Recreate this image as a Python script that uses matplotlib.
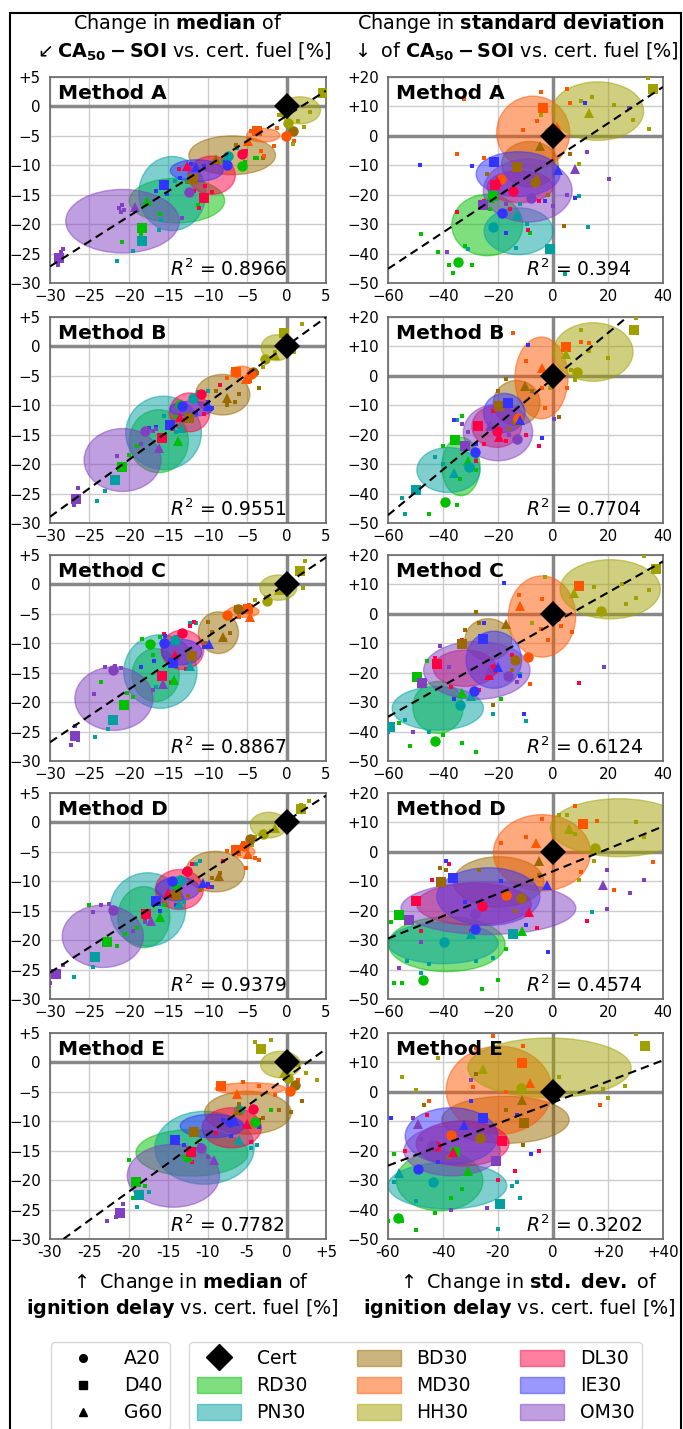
import numpy as np
import matplotlib
matplotlib.use("Agg")
import matplotlib.pyplot as plt
from matplotlib.patches import Ellipse, Patch, Rectangle
from matplotlib.lines import Line2D

plt.rcParams['font.family'] = ['DejaVu Sans']
plt.rcParams['mathtext.fontset'] = 'dejavusans'

# ---------------- data ----------------
FUELS = ['RD30', 'PN30', 'BD30', 'MD30', 'HH30', 'DL30', 'IE30', 'OM30']
COLORS = ['#00c000', '#00a0a0', '#9a6a00', '#ff5500', '#a0a000', '#ff0044', '#3333ff', '#8040c0']
ENGINES = ['A20', 'D40', 'G60']
ENGINE_MARKERS = ['o', 's', '^']
METHODS = ['A', 'B', 'C', 'D', 'E']
CERT_X = [0.0]
CERT_Y = [0.0]

R2_MED = ['0.8966', '0.9551', '0.8867', '0.9379', '0.7782']
R2_STD = ['0.394', '0.7704', '0.6124', '0.4574', '0.3202']
FIT_MED = [(0.853, -1.6), (0.968, 0.1), (0.897, 0.1), (0.859, 0.26), (0.97, -2.55)]
FIT_STD = [(0.618, -8.1), (0.774, -0.9), (0.528, -3.3), (0.381, -6.6), (0.358, -3.6)]

MED_TICKS = [-30, -25, -20, -15, -10, -5, 0, 5]
MED_YLABELS = ['\u221230', '\u221225', '\u221220', '\u221215', '\u221210', '\u22125', '0', '+5']
MED_XLABELS = ['\u221230', '\u221225', '\u221220', '\u221215', '\u221210', '\u22125', '0', '5']
MED_XLABELS_E = ['-30', '-25', '-20', '-15', '-10', '-5', '0', '+5']
STD_XTICKS = [-60, -40, -20, 0, 20, 40]
STD_XLABELS = ['\u221260', '\u221240', '\u221220', '0', '20', '40']
STD_XLABELS_E = ['-60', '-40', '-20', '0', '+20', '+40']
STD_YTICKS = [-50, -40, -30, -20, -10, 0, 10, 20]
STD_YLABELS = ['\u221250', '\u221240', '\u221230', '\u221220', '\u221210', '0', '+10', '+20']

# ellipses per fuel: (cx, cy, width, height)
ELL_A_MED = [(-13.9, -16, 12.1, 7.6), (-14.5, -14.8, 8.5, 12.6), (-6.9, -8.3, 11, 6.6), (-2.95, -4.9, 4.2, 2.3),
             (1.7, -0.66, 5.2, 4.6), (-9.5, -11.7, 6.0, 6.5), (-11.4, -10.9, 6.7, 3.7), (-20.8, -19.5, 14.4, 10.8)]
ELL_A_STD = [(-23.9, -30.3, 25.8, 20.9), (-12.5, -32.4, 25.1, 15.9), (-8.4, -9.6, 20.6, 15.4), (-7.2, 1.1, 26.6, 24.8),
             (16.3, 8.4, 33.3, 19.9), (-12, -17.3, 24, 10.8), (-12.7, -13, 30.5, 15.2), (-9.2, -18.6, 32.3, 21.4)]
ELL_B_MED = [(-16.2, -16.1, 7.5, 10.7), (-15.6, -14.7, 9.6, 12.5), (-8.1, -8.2, 6.9, 6.9), (-5.7, -4.4, 2.75, 2.1),
             (-1.27, -0.22, 3.9, 4.4), (-12.3, -11.2, 5.1, 6.6), (-12.1, -10.6, 5.4, 2.6), (-20.8, -19.3, 9.75, 10.7)]
ELL_B_STD = [(-33.5, -30.8, 13.9, 19.9), (-38, -32, 23, 15.3), (-13.2, -9.2, 17, 15.3), (-4.2, -0.7, 19.3, 27.8),
             (14.6, 8.1, 29, 19.9), (-20.5, -17.2, 18, 14.2), (-17.7, -12.6, 15.1, 13.3), (-20, -19.2, 25.2, 19.3)]
ELL_C_MED = [(-16.6, -15.4, 6, 9), (-16, -14.8, 9.3, 12.5), (-8.65, -8.2, 5.1, 7.1), (-5.5, -4.6, 4, 2),
             (-1.05, -0.55, 4.7, 4.3), (-13.2, -11.1, 5.4, 6.7), (-13.3, -11.5, 5.1, 4.3), (-21.9, -19.4, 9.9, 10.8)]
ELL_C_STD = [(-41.8, -31.8, 18.3, 17.7), (-41.9, -32.1, 33.2, 14.8), (-23.5, -8.7, 17, 14.1), (-4, -0.9, 24.5, 27.6),
             (20.8, 8.35, 36.5, 20.1), (-32, -18.5, 23, 12.3), (-21.5, -15.6, 20.2, 19.4), (-27.7, -19.2, 38.7, 19.7)]
ELL_D_MED = [(-18.1, -16.1, 6.6, 10.4), (-17.6, -14.8, 9.6, 12.5), (-9.05, -8.35, 7.5, 6.9), (-5.5, -5, 3, 2),
             (-2.25, -0.45, 4.7, 4.35), (-13.6, -11.4, 6.1, 6.8), (-13.8, -11.3, 5.5, 4), (-23.3, -19.35, 10.3, 10.6)]
ELL_D_STD = [(-38.6, -31.4, 42.4, 18.6), (-40, -31, 40, 14), (-19.7, -10.2, 32.9, 17.1), (-4, -0.3, 35.3, 25.9),
             (24, 8.2, 50, 19.7), (-28.7, -17.8, 41.7, 14.2), (-23.5, -15.2, 37.5, 19.6), (-23.5, -19.15, 63.6, 17.9)]
ELL_E_MED = [(-12, -15.35, 14.2, 7.9), (-10.4, -14.5, 12.6, 12.4), (-4.9, -8.55, 11, 7.3), (-4.6, -4.45, 8.9, 2),
             (-0.75, -0.35, 5.1, 4.5), (-6.95, -11.1, 7.5, 6.8), (-9.45, -10.8, 8.1, 4), (-14.35, -19.25, 11.7, 10.7)]
ELL_E_STD = [(-41.2, -30.25, 31.4, 20.3), (-38.4, -31.9, 43.2, 15.8), (-17.3, -9.5, 46.3, 16), (-19.6, 0.55, 38.5, 29.9),
             (-1.3, 8.15, 59.4, 20.3), (-32.9, -17.55, 33.8, 15.3), (-36.9, -15, 33.7, 19.2), (-36.7, -20, 35, 17.1)]

# big markers per fuel: (xA20, yA20, xD40, yD40, xG60, yG60)
MRK_A_MED = [(-5.7, -10.2, -18.3, -20.6, -17.7, -16.1), (-7.4, -8.4, -18.3, -22.8, -12.3, -12.2),
             (0.85, -4.2, -11.9, -12.3, -8.95, -8.9), (-0.1, -5.1, -3.8, -4.1, -4.85, -5.8),
             (0.2, -2.9, 4.6, 2.2, -0.3, -0.9), (-5.6, -8.0, -10.5, -15.5, -12.6, -10.2),
             (-7.5, -10, -15.5, -13.4, -11.5, -10.3), (-12.4, -14.6, -28.8, -25.7, -19.2, -17.1)]
MRK_A_STD = [(-34.4, -42.9, -22, -20.5, -22.9, -21), (-22, -31, -1.1, -38.4, -13, -27),
             (-6.6, -15.6, -13.2, -10.7, -4.7, -3.3), (-18.9, -14.7, -3.8, 9.4, 1.3, 2.9),
             (-1.5, 1.4, 36.4, 15.8, 13.2, 7.7), (-14.4, -18.7, -21, -16.8, -20.5, -15.5),
             (-18.4, -26.1, -21.4, -8.8, 1.9, -11.6), (-8, -21, -25.3, -23.5, 8, -11.1)]
MRK_B_MED = [(-13.5, -10, -20.9, -20.5, -13.8, -16), (-11.9, -8.7, -21.8, -22.7, -13.4, -13.9),
             (-4.3, -4.4, -12.4, -12.1, -7.6, -8.7), (-4.5, -4.6, -6.4, -4.3, -5.2, -5.5),
             (-2.75, -2.1, -0.34, 2.2, -1.5, -1.5), (-10.8, -8, -15.8, -15.5, -13.5, -12),
             (-13.3, -10.1, -14.8, -13.4, -10, -10.2), (-17.9, -14.4, -26.7, -25.9, -16.2, -17.2)]
MRK_B_STD = [(-39.1, -43, -35.6, -21.8, -31, -29), (-30.5, -31, -49.7, -38.7, -36, -33),
             (-13.2, -15.5, -19.5, -10.3, -10.2, -3.5), (-12.8, -14.3, 4.9, 9.8, -4.1, 2.7),
             (8.9, 1.3, 29.4, 15.5, 4.6, 7.5), (-20.5, -18.8, -27.1, -16.9, -19.5, -20.9),
             (-28.3, -26, -16.5, -9.3, -12, -15), (-13.2, -21.4, -31.9, -23.7, -23, -17)]
MRK_C_MED = [(-17.3, -10.2, -20.6, -20.5, -14.3, -16.3), (-14.2, -9.5, -22, -23, -12.2, -13.8),
             (-6.2, -4.1, -11.95, -12.2, -8, -9), (-7.6, -5.2, -4.9, -4.1, -4.7, -5.6),
             (-2.5, -2.9, 1.7, 2.2, -1, -1), (-13.3, -8.2, -15.8, -15.5, -14.2, -12),
             (-15.5, -10, -14.4, -13.4, -9.8, -10.1), (-22, -14.6, -26.8, -25.7, -15.7, -17)]
MRK_C_STD = [(-42.8, -43.3, -49.5, -21.3, -33, -27), (-33.8, -31, -59.4, -38.6, -30, -28),
             (-13.8, -15.6, -33.2, -10.4, -17, -3.6), (-9.2, -14.7, 9.5, 9.5, -12, 2.7),
             (17.6, 1, 37.3, 15.4, 7.7, 7.2), (-21.9, -18.8, -42.2, -16.9, -23.1, -20.9),
             (-28.6, -26.1, -25.5, -8.7, -20, -18), (-16.2, -21, -47.7, -23.6, -23, -19)]
MRK_D_MED = [(-14, -10.4, -22.8, -20.4, -16.1, -16), (-13.5, -9.8, -24.3, -22.8, -13.6, -13.8),
             (-4.6, -2.8, -14, -12.4, -8.6, -9.1), (-5.4, -4, -6.4, -4.6, -4.9, -5.4),
             (-3, -2, 1.8, 2.2, -1.5, -1), (-12.6, -8.2, -17.8, -15.5, -15, -12),
             (-14.5, -10, -16.6, -13.4, -10.6, -10.3), (-22, -14.8, -29.2, -25.7, -17.2, -16.8)]
MRK_D_STD = [(-47.1, -43.4, -56.1, -21.3, -11.4, -26.9), (-39.6, -30.6, -14.7, -27.8, -30, -28),
             (-11.6, -15.6, -40.6, -10.2, -5, -3.1), (-17.1, -14.7, 11, 9.4, -6.2, 2.9),
             (15.2, 1.4, np.nan, np.nan, 5.9, 7.8), (-25.9, -18.5, -49.7, -16.6, -8.6, -20.6),
             (-28.3, -26.1, -36.2, -9, -2.1, -11.3), (-28.5, -21, -52.3, -23.2, 18.2, -11.1)]
MRK_E_MED = [(-4, -10.2, -19.1, -20.4, -12.5, -16), (-6, -8, -18.7, -22.6, -6, -13.2),
             (1.1, -3.9, -11.8, -11.9, -6.2, -8), (0.4, -4.9, -8.3, -4, -6.3, -5.4),
             (0.2, -2.6, -3.3, 2.2, -0.3, -1.8), (-4.3, -7.9, -12.1, -15.2, -5, -10.4),
             (-7.2, -10.2, -14.2, -13.2, -6.5, -10), (-10.9, -14.5, -21.1, -25.5, -9.2, -16.5)]
MRK_E_STD = [(-56.4, -42.7, -35.7, -20.6, -31, -26.9), (-43.8, -30.6, -19.2, -38.1, -56, -27.6),
             (-26.6, -15.8, -10.5, -10.5, -11.3, -2.9), (-37.2, -14.7, -11.3, 9.8, -8.2, 3.1),
             (-11.6, 1.4, 33.4, 15.7, -25.5, 7.8), (-42.7, -18.4, -18.4, -16.7, -36.5, -20.6),
             (-49, -26.3, -25.5, -8.8, -32.5, -11.4), (-44, -18, -20.8, -23.5, -49, -11)]

# small individual points per fuel: list of (x, y)
DOT_A_MED = [
    [(-4, -8.8), (-3.7, -8.8), (-5.3, -9.5), (-8.1, -9.3), (-16, -18.3), (-20.9, -23), (-18.5, -21.8), (-11.2, -16.7)],
    [(-6.3, -7), (-5.4, -7.5), (-14.2, -12.7), (-15.9, -19.3), (-21.5, -26.3), (-19.5, -24.5), (-16.2, -21)],
    [(-3, -8.8), (-6.4, -6.6), (1.2, -4.3), (-9.2, -9.3), (-12.6, -12.8)],
    [(-2.8, -8.5), (-4.5, -4.2), (-1.2, -3.6), (-3.2, -7.6), (-1.6, -6.8), (0.9, -5.8)],
    [(1.5, -2.5), (2.2, -3.5), (0.5, -3.9), (-1, -1.5), (3, -1), (0.8, -6.3)],
    [(-5.1, -7.5), (-10.3, -13.6), (-11.8, -14.4), (-9.4, -14.6), (-11.1, -17.2), (-13.6, -10.7)],
    [(-7.8, -9.5), (-12.1, -9.7), (-10.5, -10.1), (-16.6, -14.3), (-15.1, -14.9), (-13.5, -12.1)],
    [(-20.9, -16.8), (-21.2, -17.3), (-20.6, -17.6), (-21, -18), (-28.6, -24.8), (-28.3, -24.2), (-13.3, -18.9), (-29, -27)]]
DOT_A_STD = [
    [(-48, -33.5), (-42, -39.5), (-38, -44), (-29.5, -44), (-32, -37.5), (-36.5, -46.5), (-8.5, -33), (-23, -25)],
    [(12.8, -31), (9.5, -20.5), (4.5, -47), (-9.5, -30), (-31, -38.5), (-12, -23), (-13.5, -38)],
    [(4, -30.5), (-6, -14), (-12, -11.5), (-24, -13), (-2, -20), (6, -6)],
    [(-4.5, 15), (5, 15.8), (6, 11), (-11, 2), (-6, 5), (-32.5, 12.5), (-35, -6), (-25, -7.5)],
    [(34.5, 19.5), (22, 10.5), (29, 5.5), (34.8, 2.5), (10, 12), (14, 13.2), (-4.5, 7), (9.5, -9.5)],
    [(-35, -26), (-25, -22), (-15.5, -25), (-9, -32), (-5, -22), (-20, -17)],
    [(-48.5, -10), (11.8, 11), (-29.5, -10.4), (-3, -22), (8, -21), (-17, -33)],
    [(20.5, -14.5), (12.5, -5.5), (27.5, 9.5), (-38.5, -39.5), (0, -24), (5, -20), (-17, -23)]]
DOT_B_MED = [
    [(-19, -17), (-20, -18.5), (-14, -12), (-13.5, -16.5), (-21, -20.5)],
    [(-10, -7.5), (-11.2, -7.7), (-15.5, -11.8), (-23, -24.5), (-24, -26.3), (-14, -14.5)],
    [(-6, -8), (-9, -7.5), (-7.5, -10), (-3.5, -7), (-6.5, -9.5)],
    [(-3.8, -4.5), (-7.5, -5.3), (-4.7, -5.8)],
    [(2, 3.8), (-1.5, -1), (-3, -3.5), (-4.5, -4.2), (1, -1)],
    [(-8.5, -6.5), (-10.5, -11.5), (-13, -12.5), (-14.5, -14)],
    [(-10, -9.5), (-9.5, -10.5), (-17.5, -13.8), (-16.5, -13.7), (-11.5, -11.3)],
    [(-16.5, -14), (-17, -14.3), (-21.5, -18.7), (-26.5, -24), (-27, -27), (-18.5, -16.5)]]
DOT_B_STD = [
    [(-33, -13.5), (-40, -24), (-34, -35), (-45, -47), (-35, -44), (-28, -32)],
    [(-55, -41.5), (-54, -47), (-35, -15), (-28, -28), (-40, -30), (-43, -27.5)],
    [(-17, -1), (-20, -5), (2, -14), (-7.5, -5), (-16, -18)],
    [(-14.5, 14.7), (-10, 5), (10, 11.5), (13, 11), (-4, -4), (5, -4), (-3, -11)],
    [(30, 19.5), (10, 15.5), (13, 8.5), (20, 6), (8, -1.5), (6.5, 2), (-1, -4)],
    [(-22, -12), (-25, -23), (-10, -20), (-17, -22), (-5, -24), (-28, -29), (-30, -32)],
    [(-9, 10.5), (-13, -15.5), (-4, -21), (-36, -15), (-28, -23)],
    [(-31, -19), (-33, -16.5), (0.5, -14.5), (-13, -11), (-16, -20)]]
DOT_C_MED = [
    [(-18.3, -9.2), (-16.1, -9), (-17, -12), (-23.5, -16.6), (-20.2, -18.5), (-19.5, -19.2), (-20.7, -21)],
    [(-11.5, -6.5), (-12.2, -6.6), (-16.6, -17.5), (-22.7, -24.5), (-24.3, -26), (-14.7, -16.6)],
    [(-10, -6.3), (-7.2, -8.3), (-9.4, -8), (-7.8, -9.5), (-10.3, -10)],
    [(-6.4, -3.9), (-4.8, -3.5), (-6, -5.5), (-4.8, -6)],
    [(2.3, 3.9), (2.1, -0.6), (-2.6, -2.2), (-4, -2.6)],
    [(-11.7, -6.3), (-12.3, -7), (-15.5, -8.5), (-12.8, -14.3), (-14.7, -16.7)],
    [(-18.5, -14), (-16.8, -13), (-10.5, -10.6), (-15.4, -8.8), (-14, -9)],
    [(-23, -14), (-21.8, -13.9), (-21, -14.2), (-24.4, -18.7), (-17, -18), (-26.8, -24), (-26.5, -26.5), (-27.3, -27.3)]]
DOT_C_STD = [
    [(-56, -37), (-52, -45), (-28, -47), (-40, -41), (-33, -44), (-46, -16), (-19, -29)],
    [(-54, -36), (-12, -20.5), (-10, -36.5), (-22, -34), (-45, -40), (-60, -40)],
    [(-28, 0.5), (-32, -5.5), (-15, -19), (-27, -3), (-22, -31)],
    [(-4.5, -5), (-12.5, 6.5), (-4, 5), (3, -4), (7, -6), (-2, -9), (-16.5, -20.5), (-8.5, -24)],
    [(33, 19.5), (25, 10), (15, 9), (30, 5.5), (26.5, 3.5), (35, 8), (-3, 12.5), (-7.5, -3)],
    [(-43, -15), (-33, -9), (-37, -25), (9.5, -23.5), (-27, -26), (-15, -14)],
    [(-18, 10.5), (-25, -3), (-10.5, -34), (-12, -21), (-36, -29)],
    [(18.5, -18), (-41, -11), (-51, -40), (-38, -18), (-13, -23)]]
DOT_D_MED = [
    [(-19, -18), (-20.5, -19), (-21.5, -21), (-15.5, -14), (-25, -14)],
    [(-11, -6.5), (-11.5, -7), (-14.5, -11), (-24.5, -24.5), (-27, -26.3), (-13, -13.5)],
    [(-9.5, -9.5), (-8.5, -8.6), (-11, -11.5), (-12.5, -12.5)],
    [(-5.5, -3.5), (-7.5, -4.8), (-4, -6), (-5.2, -7.8), (-6, -5.4), (-3.5, -6.3)],
    [(2.8, 3.7), (1.8, 2.9), (-2, -1.5), (-4, -2.5), (-4.4, -3.8)],
    [(-8, -6.5), (-12, -7), (-13, -8.5), (-10, -11), (-18, -16.5)],
    [(-10, -10.5), (-9.5, -11), (-16, -15), (-14, -14)],
    [(-23.5, -14), (-22.5, -13.8), (-24.5, -15.2), (-18, -17), (-28.3, -24.3), (-30, -27.3), (-19.5, -18.5)]]
DOT_D_STD = [
    [(-58, -44.5), (-55, -44.5), (-26, -46.5), (-20, -43.5), (-59, -24), (-17, -33)],
    [(-53, -37), (14, -20.5), (-48, -41), (-28, -37), (-22, -36), (-45, -38)],
    [(-41, -5.5), (-39, -6), (-5, -8), (-27, -6), (-14, -20)],
    [(-4, 11), (8, 15.5), (16, 10.5), (36.5, -3.5), (-19, 3), (-10, 5), (22, -13), (10, -7)],
    [(33, 5), (30, 10), (5, 12.5), (8, 6), (15, -3), (2, 12.5), (9.5, -9.5)],
    [(-44, -9.5), (-38, -4), (-30, -27), (12.5, -23.5), (-48, -27), (-6, -26)],
    [(-39, -3), (-19, -10), (-2, -34), (-32, -17), (-10, -25)],
    [(33, -9.5), (28, -14), (19.5, -6), (19.5, -19.5), (-56, -39.5), (-48, -30.5)]]
DOT_E_MED = [
    [(-20, -16.5), (-18, -21), (-19.5, -23), (-13, -16), (-2, -8)],
    [(-3.8, -14), (-4.5, -14.5), (-6, -7), (-19, -24.5), (-17.5, -22)],
    [(-1, -8), (-3, -9.5), (2, -6.5), (-6, -7), (0.5, -8.5)],
    [(-5.5, -3.3), (-3.5, -4), (1.5, -3), (-8, -4.4), (-1.5, -5.5)],
    [(-4, 3.5), (-2, 3.8), (1.5, -0.5), (2.5, -1.8), (3.8, -3), (-3.5, 2)],
    [(-3.5, -9.8), (-6, -8.5), (-9, -12), (-12, -17), (-4.5, -13.5)],
    [(-8, -9.8), (-13, -14), (-3.5, -11), (-7, -12.5)],
    [(-20.7, -24), (-22.8, -27), (-21.6, -26.3), (-11, -14), (-10, -16)]]
DOT_E_STD = [
    [(-58, -21), (-55, -44), (-50, -47), (-43, -41), (-33, -33), (-37, -36), (-60, -44)],
    [(-58, -30.5), (-13, -30.5), (-20, -46.5), (-12, -36), (-15, -32), (-50, -37)],
    [(-47, -4.5), (-11, -18), (-28, 6), (-17, -6), (-38, -22)],
    [(-22, 19), (-11, 15.5), (-28, 15), (17, -4.5), (-45, -3), (-29, 1.5), (-17, 0)],
    [(30, 19.5), (-55, 5), (-50, 0.5), (-42, 11.5), (20, -2), (26, 2), (18, 1), (2, 5)],
    [(-20, -30), (-14, -27), (-5, -20), (-46, -8), (-54, -20), (-22, -24)],
    [(-59, -9), (-30, -3), (-13, -8), (-42, -24), (-8, -21)],
    [(-51, -9), (-48, -16), (-24, -39.5), (-30, 4), (-37, -40)]]

ELL_MED = [ELL_A_MED, ELL_B_MED, ELL_C_MED, ELL_D_MED, ELL_E_MED]
ELL_STD = [ELL_A_STD, ELL_B_STD, ELL_C_STD, ELL_D_STD, ELL_E_STD]
MRK_MED = [MRK_A_MED, MRK_B_MED, MRK_C_MED, MRK_D_MED, MRK_E_MED]
MRK_STD = [MRK_A_STD, MRK_B_STD, MRK_C_STD, MRK_D_STD, MRK_E_STD]
DOT_MED = [DOT_A_MED, DOT_B_MED, DOT_C_MED, DOT_D_MED, DOT_E_MED]
DOT_STD = [DOT_A_STD, DOT_B_STD, DOT_C_STD, DOT_D_STD, DOT_E_STD]

# ---------------- figure ----------------
W, H = 683, 1429
fig = plt.figure(figsize=(W / 100, H / 100), dpi=100)

ROW_TOPS = [77, 317, 555, 793, 1033]
AX_H = 206
COL_X = [(50, 276), (388, 275)]

TICK_FS = 10.8


def draw_panel(ax, ell, mrk, dots, fit, r2, method, r2x):
    ax.grid(True, color='#cccccc', lw=1, zorder=0)
    ax.set_axisbelow(True)
    ax.axhline(0, color='#888888', lw=2.5, zorder=1)
    ax.axvline(0, color='#888888', lw=2.5, zorder=1)
    for i, c in enumerate(COLORS):
        cx, cy, w, h = ell[i]
        ax.add_patch(Ellipse((cx, cy), w, h, facecolor=c, edgecolor=c,
                             alpha=0.5, lw=1, zorder=2))
    for i, c in enumerate(COLORS):
        xs = [p[0] for p in dots[i]]
        ys = [p[1] for p in dots[i]]
        ax.plot(xs, ys, 's', ms=2.4, color=c, mew=0, zorder=3)
    for i, c in enumerate(COLORS):
        for j, m in enumerate(ENGINE_MARKERS):
            ax.plot([mrk[i][2 * j]], [mrk[i][2 * j + 1]], m,
                    ms=(6.8 if m == 's' else 7.5), color=c, mew=0, zorder=5)
    ax.axline((0, fit[1]), slope=fit[0], color='k', ls=(0, (4, 2.5)), lw=1.5, zorder=6)
    ax.plot(CERT_X, CERT_Y, 'D', ms=13, color='k', mew=0, zorder=7)
    ax.text(0.03, 0.966, 'Method ' + method, transform=ax.transAxes, ha='left', va='top',
            fontsize=14.5, fontweight='bold', zorder=8)
    ax.text(r2x, 0.034, '$R^2$ = ' + r2, transform=ax.transAxes, ha='left', va='baseline',
            fontsize=13.5, zorder=8)
    for s in ax.spines.values():
        s.set_color('#666666')
        s.set_linewidth(1.2)
    ax.tick_params(axis='y', length=0, pad=6.5, labelsize=TICK_FS)
    ax.tick_params(axis='x', length=0, pad=4.5, labelsize=TICK_FS)


for r in range(5):
    top = ROW_TOPS[r]
    # median column
    x0, w = COL_X[0]
    ax = fig.add_axes([x0 / W, 1 - (top + AX_H) / H, w / W, AX_H / H])
    draw_panel(ax, ELL_MED[r], MRK_MED[r], DOT_MED[r], FIT_MED[r], R2_MED[r], METHODS[r], 0.435)
    ax.set_xlim(-30, 5)
    ax.set_ylim(-30, 5)
    ax.set_xticks(MED_TICKS)
    ax.set_xticklabels(MED_XLABELS_E if r == 4 else MED_XLABELS)
    ax.set_yticks(MED_TICKS)
    ax.set_yticklabels(MED_YLABELS)
    # std column
    x0, w = COL_X[1]
    ax = fig.add_axes([x0 / W, 1 - (top + AX_H) / H, w / W, AX_H / H])
    draw_panel(ax, ELL_STD[r], MRK_STD[r], DOT_STD[r], FIT_STD[r], R2_STD[r], METHODS[r], 0.50)
    ax.set_xlim(-60, 40)
    ax.set_ylim(-50, 20)
    ax.set_xticks(STD_XTICKS)
    ax.set_xticklabels(STD_XLABELS_E if r == 4 else STD_XLABELS)
    ax.set_yticks(STD_YTICKS)
    ax.set_yticklabels(STD_YLABELS)

HFS = 13.8


def ft(xpx, ypx, s, fs=HFS):
    fig.text(xpx / W, 1 - ypx / H, s, ha='center', va='baseline', fontsize=fs)


ft(178, 29, r'Change in $\bf{median}$ of')
ft(183, 58, r'$\swarrow$$\mathbf{CA_{50}-SOI}$ vs. cert. fuel [%]')
ft(511, 29, r'Change in $\bf{standard\ deviation}$')
ft(515, 58, r'$\downarrow$ of $\mathbf{CA_{50}-SOI}$ vs. cert. fuel [%]')
ft(190, 1288, r'$\uparrow$ Change in $\bf{median}$ of')
ft(182, 1314, r'$\bf{ignition\ delay}$ vs. cert. fuel [%]')
ft(527, 1288, r'$\uparrow$ Change in $\bf{std.\ dev.}$ of')
ft(519, 1314, r'$\bf{ignition\ delay}$ vs. cert. fuel [%]')

# legends
LFS = 13.5
eng_handles = [Line2D([], [], marker=m, ls='none', color='k', ms=5.5) for m in ENGINE_MARKERS]
leg1 = fig.legend(eng_handles, ENGINES, loc='upper left', borderaxespad=0,
                  bbox_to_anchor=(51 / W, 1 - 1342 / H), fontsize=LFS,
                  handlelength=2.6, labelspacing=0.42, borderpad=0.4, handletextpad=0.9)
fuel_handles = [Line2D([], [], marker='D', ls='none', color='k', ms=13)]
fuel_labels = ['Cert']
for f, c in zip(FUELS, COLORS):
    fuel_handles.append(Patch(facecolor=c, edgecolor=c, alpha=0.5))
    fuel_labels.append(f)
leg2 = fig.legend(fuel_handles, fuel_labels, loc='upper left', ncol=3, borderaxespad=0,
                  bbox_to_anchor=(189 / W, 1 - 1342 / H), fontsize=LFS,
                  handlelength=2.35, handleheight=0.95, labelspacing=0.42, borderpad=0.4,
                  handletextpad=0.85, columnspacing=2.6)

# outer frame
fig.add_artist(Rectangle((9.5 / W, -0.01), (681 - 9.5) / W, 1.01 - 13 / H,
                         transform=fig.transFigure, fill=False, edgecolor='k', lw=1.5))

fig.savefig('out.png', dpi=100)
